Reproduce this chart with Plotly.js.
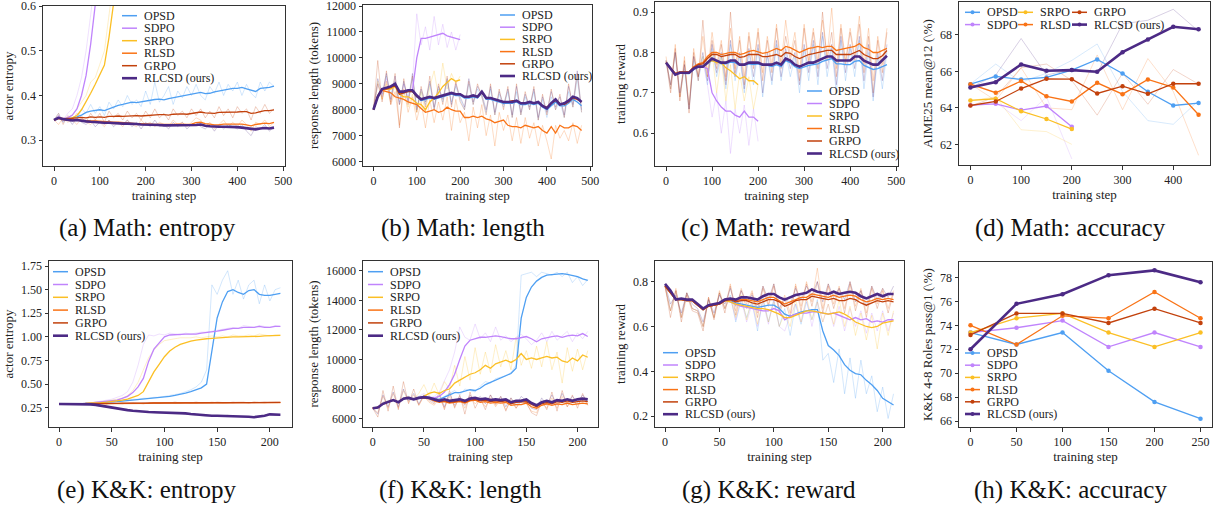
<!DOCTYPE html>
<html>
<head>
<meta charset="utf-8">
<script src="https://cdn.plot.ly/plotly-3.0.1.min.js"></script>
<style>html,body{margin:0;padding:0;background:#fff;}#chart{width:1214px;height:506px;}</style>
</head>
<body>
<div id="chart"></div>
<script>
// ---------------- data ----------------
const SERIES = ['OPSD','SDPO','SRPO','RLSD','GRPO','RLCSD (ours)'];
const COLORS = ['#4e9ff2','#c084fc','#fbbf24','#f97316','#c2410c','#4c2a85'];

const mathSteps = [0,10,20,30,40,50,60,70,80,90,100,110,120,130,140,150,160,170,180,190,200,210,220,230,240,250,260,270,280,290,300,310,320,330,340,350,360,370,380,390,400,410,420,430,440,450,460,470,480];
const kkSteps = [0,5,10,15,20,25,30,35,40,45,50,55,60,65,70,75,80,85,90,95,100,105,110,115,120,125,130,135,140,145,150,155,160,165,170,175,180,185,190,195,200,205,210];
const mathEvalSteps = [0,50,100,150,200,250,300,350,400,450];
const kkEvalSteps = [0,50,100,150,200,250];

// (a) Math entropy
const aOPSD = [0.345,0.350,0.348,0.347,0.350,0.352,0.356,0.362,0.365,0.366,0.368,0.366,0.370,0.374,0.378,0.380,0.382,0.385,0.384,0.386,0.388,0.389,0.391,0.392,0.390,0.393,0.395,0.396,0.398,0.401,0.402,0.405,0.407,0.404,0.405,0.408,0.410,0.411,0.414,0.416,0.416,0.418,0.415,0.412,0.409,0.416,0.417,0.418,0.421];
const aSDPO = [0.345,0.352,0.348,0.350,0.356,0.370,0.400,0.445,0.515,0.59,0.68,0.78];
const aSRPO = [0.345,0.350,0.347,0.347,0.350,0.355,0.368,0.385,0.405,0.425,0.445,0.468,0.53,0.60,0.68,0.76];
const aRLSD = [0.345,0.348,0.346,0.345,0.346,0.345,0.344,0.344,0.343,0.343,0.342,0.341,0.341,0.340,0.340,0.339,0.339,0.338,0.337,0.337,0.336,0.336,0.335,0.335,0.335,0.334,0.335,0.336,0.335,0.335,0.336,0.339,0.340,0.337,0.336,0.334,0.334,0.336,0.336,0.336,0.335,0.336,0.334,0.332,0.335,0.337,0.338,0.337,0.340];
const aGRPO = [0.345,0.350,0.348,0.348,0.349,0.350,0.351,0.350,0.352,0.351,0.352,0.351,0.353,0.353,0.354,0.353,0.354,0.355,0.355,0.354,0.355,0.356,0.357,0.357,0.357,0.356,0.358,0.359,0.359,0.358,0.360,0.361,0.363,0.361,0.360,0.360,0.362,0.362,0.363,0.362,0.363,0.364,0.364,0.360,0.361,0.364,0.366,0.366,0.368];
const aRLCSD = [0.345,0.350,0.347,0.346,0.344,0.345,0.343,0.342,0.341,0.340,0.339,0.339,0.339,0.338,0.338,0.337,0.337,0.337,0.336,0.335,0.335,0.335,0.334,0.334,0.333,0.333,0.333,0.333,0.333,0.333,0.333,0.334,0.335,0.332,0.331,0.330,0.330,0.330,0.330,0.330,0.329,0.328,0.327,0.325,0.324,0.326,0.327,0.326,0.328];
const aRawOPSD = [0.345,0.36,0.34,0.35,0.355,0.345,0.37,0.36,0.38,0.36,0.375,0.355,0.385,0.37,0.39,0.375,0.40,0.38,0.39,0.375,0.41,0.38,0.43,0.385,0.40,0.42,0.38,0.41,0.395,0.42,0.40,0.425,0.40,0.39,0.42,0.405,0.43,0.40,0.425,0.41,0.43,0.40,0.425,0.405,0.395,0.43,0.41,0.43,0.42];
const aRawSDPO = [0.345,0.355,0.345,0.36,0.37,0.40,0.44,0.50,0.58,0.68,0.78,0.85];
const aRawSRPO = [0.345,0.35,0.345,0.35,0.355,0.37,0.385,0.40,0.43,0.44,0.47,0.50,0.58,0.66,0.75,0.82];
const aRawRLSD = [0.345,0.335,0.35,0.34,0.345,0.335,0.35,0.34,0.335,0.345,0.34,0.33,0.345,0.335,0.34,0.33,0.345,0.335,0.33,0.345,0.335,0.34,0.33,0.34,0.335,0.33,0.345,0.335,0.34,0.33,0.34,0.35,0.345,0.33,0.34,0.325,0.335,0.345,0.33,0.34,0.33,0.345,0.335,0.32,0.34,0.335,0.345,0.33,0.34];
const aRawGRPO = [0.345,0.36,0.335,0.355,0.345,0.36,0.35,0.34,0.36,0.345,0.36,0.34,0.365,0.35,0.36,0.345,0.365,0.35,0.36,0.345,0.365,0.35,0.37,0.35,0.36,0.345,0.37,0.355,0.365,0.35,0.37,0.355,0.37,0.35,0.365,0.35,0.375,0.355,0.37,0.35,0.375,0.36,0.37,0.345,0.375,0.36,0.38,0.36,0.37];
const aRawRLCSD = [0.345,0.355,0.34,0.35,0.335,0.35,0.34,0.335,0.345,0.33,0.34,0.335,0.345,0.33,0.34,0.335,0.345,0.33,0.34,0.325,0.34,0.33,0.345,0.33,0.335,0.325,0.34,0.33,0.34,0.325,0.335,0.34,0.33,0.325,0.335,0.32,0.335,0.325,0.335,0.33,0.325,0.335,0.32,0.31,0.33,0.325,0.335,0.32,0.33];

// (b) Math length
const bOPSD = [8000,8500,8800,8850,8900,8950,8650,8650,8700,8700,8500,8350,8400,8450,8400,8450,8500,8550,8600,8550,8550,8450,8450,8500,8450,8650,8400,8400,8350,8300,8250,8250,8250,8300,8200,8200,8250,8200,8250,8100,8000,8150,8300,8150,8150,8250,8400,8300,8150];
const bSDPO = [8000,8500,8800,8850,8900,9000,8700,8700,8750,8750,10000,10750,10750,10800,10850,10900,10950,10850,10800,10750,10700];
const bSRPO = [8000,8500,8800,8800,8800,8900,8600,8500,8500,8400,8250,8200,8000,8300,8450,8650,8900,9050,9200,9100,9150];
const bRLSD = [8000,8500,8750,8700,8650,8500,8450,8400,8300,8250,8200,8050,7900,7950,8000,7900,7950,8100,8000,7950,7950,7700,7700,7750,7700,7750,7650,7600,7500,7550,7600,7400,7350,7350,7300,7400,7350,7300,7350,7200,7100,7350,7100,7400,7300,7300,7400,7350,7200];
const bGRPO = [8000,8550,8800,8800,8850,8950,8600,8650,8700,8700,8500,8400,8450,8500,8450,8500,8550,8600,8650,8600,8600,8500,8500,8550,8500,8650,8450,8450,8400,8350,8300,8300,8350,8350,8250,8250,8300,8250,8300,8150,8100,8250,8350,8250,8200,8300,8450,8400,8300];
const bRLCSD = [8000,8500,8800,8850,8900,9000,8700,8700,8750,8750,8550,8400,8450,8500,8450,8500,8550,8600,8650,8600,8600,8500,8500,8550,8500,8700,8450,8450,8400,8350,8300,8300,8300,8350,8250,8250,8300,8250,8300,8150,8050,8250,8400,8200,8250,8350,8500,8450,8300];
const bRawOPSD = [8000,9000,8500,9300,8600,9100,8300,9000,8500,9200,8100,8700,8200,9000,8000,8800,8300,9100,8300,8900,8400,8000,9000,8200,8800,8500,7900,8800,7800,8600,8100,8700,7700,8700,7800,8500,8000,8700,7600,8400,7700,8500,8000,8300,7700,8700,8100,9200,7900];
const bRawSDPO = [8000,9000,8500,9200,8300,9100,8200,9000,8400,9000,11700,10500,11200,10300,11600,10500,11300,10400,11000,10300,10900];
const bRawSRPO = [8000,9100,8400,9000,8300,9000,8200,8700,8100,8600,7900,8700,7900,8900,9500,8500,9800,8800,9400,9000,9300];
const bRawRLSD = [8000,9000,8400,9100,8200,8700,7400,8800,7900,8500,7600,8300,7300,8400,7500,8300,7600,8500,7200,8400,7500,7900,6800,8100,7300,8200,7000,7800,6600,7900,7200,7800,6800,7700,6700,7700,6900,7500,6600,7400,6800,6100,7400,6900,7200,6800,7500,6700,7400];
const bRawGRPO = [8000,9900,8300,9500,8200,9400,7300,9200,8200,9300,7900,8900,8100,9300,8000,9000,8200,9300,8100,9100,8300,8000,9100,8200,9000,8500,7800,9000,7800,8800,8000,8900,7700,9000,7800,8700,8000,8900,7600,8600,7800,8800,8000,8600,7700,9000,8100,9400,7900];
const bRawRLCSD = [8000,9200,8600,9400,8400,9300,8200,9100,8300,9400,8000,8800,8300,9100,8100,8900,8400,9200,8200,9000,8500,8100,9200,8300,8900,8600,8000,8900,7900,8700,8200,8800,7800,8900,7900,8600,8100,8800,7700,8500,7900,8700,8100,8500,7800,8900,8200,9500,8000];

// (c) Math reward
const cOPSD = [0.775,0.760,0.745,0.750,0.748,0.748,0.758,0.763,0.765,0.772,0.780,0.778,0.772,0.772,0.776,0.775,0.768,0.768,0.772,0.770,0.772,0.768,0.768,0.765,0.770,0.765,0.780,0.775,0.765,0.760,0.765,0.768,0.770,0.772,0.778,0.782,0.785,0.772,0.772,0.770,0.770,0.778,0.780,0.768,0.762,0.758,0.760,0.765,0.770];
const cSDPO = [0.775,0.760,0.745,0.750,0.750,0.750,0.760,0.765,0.765,0.760,0.700,0.680,0.665,0.655,0.655,0.645,0.640,0.655,0.640,0.640,0.630];
const cSRPO = [0.775,0.760,0.745,0.750,0.750,0.750,0.760,0.765,0.765,0.775,0.780,0.775,0.775,0.762,0.755,0.745,0.735,0.740,0.730,0.730,0.720];
const cRLSD = [0.775,0.762,0.748,0.752,0.752,0.752,0.765,0.772,0.775,0.790,0.800,0.800,0.795,0.797,0.800,0.800,0.795,0.798,0.803,0.805,0.802,0.798,0.800,0.805,0.810,0.805,0.815,0.812,0.805,0.800,0.805,0.810,0.812,0.815,0.812,0.815,0.815,0.805,0.808,0.810,0.812,0.815,0.822,0.812,0.808,0.800,0.800,0.805,0.810];
const cGRPO = [0.775,0.762,0.748,0.752,0.752,0.752,0.763,0.770,0.772,0.785,0.795,0.795,0.790,0.792,0.795,0.795,0.788,0.790,0.795,0.795,0.795,0.790,0.790,0.792,0.795,0.790,0.800,0.798,0.790,0.785,0.790,0.795,0.797,0.800,0.802,0.805,0.805,0.795,0.795,0.795,0.795,0.800,0.805,0.795,0.790,0.785,0.785,0.792,0.805];
const cRLCSD = [0.775,0.760,0.745,0.750,0.750,0.750,0.760,0.765,0.765,0.775,0.785,0.780,0.775,0.775,0.780,0.780,0.770,0.770,0.775,0.775,0.775,0.770,0.770,0.770,0.775,0.770,0.785,0.780,0.770,0.765,0.770,0.775,0.775,0.780,0.785,0.790,0.790,0.780,0.780,0.780,0.780,0.790,0.790,0.780,0.775,0.770,0.770,0.780,0.792];
const cRawOPSD = [0.78,0.71,0.80,0.69,0.76,0.66,0.78,0.73,0.79,0.72,0.81,0.74,0.79,0.71,0.82,0.73,0.79,0.70,0.80,0.72,0.81,0.69,0.79,0.72,0.82,0.73,0.80,0.74,0.79,0.70,0.81,0.73,0.82,0.72,0.84,0.74,0.81,0.70,0.83,0.73,0.81,0.74,0.83,0.71,0.80,0.68,0.79,0.71,0.80];
const cRawSDPO = [0.78,0.72,0.80,0.69,0.77,0.67,0.79,0.74,0.78,0.72,0.64,0.70,0.60,0.68,0.55,0.66,0.60,0.67,0.57,0.66,0.58];
const cRawSRPO = [0.78,0.72,0.80,0.69,0.77,0.67,0.79,0.74,0.79,0.74,0.80,0.70,0.79,0.68,0.77,0.66,0.75,0.68,0.74,0.66,0.72];
const cRawRLSD = [0.79,0.71,0.82,0.69,0.79,0.66,0.81,0.74,0.84,0.75,0.85,0.77,0.83,0.74,0.86,0.76,0.84,0.74,0.85,0.77,0.86,0.75,0.84,0.77,0.87,0.77,0.88,0.79,0.85,0.75,0.87,0.78,0.86,0.78,0.88,0.79,0.91,0.76,0.87,0.78,0.86,0.79,0.89,0.77,0.86,0.73,0.84,0.77,0.86];
const cRawGRPO = [0.78,0.70,0.81,0.68,0.78,0.65,0.80,0.73,0.88,0.74,0.83,0.76,0.82,0.73,0.90,0.75,0.83,0.72,0.84,0.76,0.85,0.73,0.83,0.75,0.86,0.76,0.84,0.78,0.83,0.73,0.86,0.77,0.85,0.76,0.90,0.78,0.85,0.74,0.86,0.77,0.85,0.78,0.87,0.75,0.84,0.70,0.83,0.75,0.85];
const cRawRLCSD = [0.78,0.72,0.80,0.70,0.77,0.66,0.79,0.74,0.80,0.73,0.82,0.75,0.80,0.72,0.83,0.74,0.80,0.71,0.81,0.74,0.82,0.70,0.80,0.73,0.83,0.74,0.81,0.76,0.80,0.72,0.82,0.75,0.83,0.74,0.85,0.76,0.82,0.72,0.84,0.75,0.82,0.76,0.84,0.73,0.82,0.69,0.80,0.73,0.82];

// (d) Math accuracy
const dOPSD = [65.30,65.72,65.56,65.67,66.07,66.65,65.88,64.88,64.13,64.26];
const dSDPO = [64.15,64.22,63.88,64.10,62.97];
const dSRPO = [64.41,64.50,63.82,63.39,62.84];
const dRLSD = [65.30,64.83,65.47,64.63,64.35,65.37,64.75,65.56,65.12,63.62];
const dGRPO = [64.13,64.35,65.06,65.59,65.57,64.79,65.19,64.77,65.32,65.32];
const dRLCSD = [65.12,65.41,66.38,66.03,66.07,65.98,67.05,67.75,68.44,68.31];
const dRawOPSD = [65.3,66.4,65.4,65.9,66.6,67.5,64.9,63.3,63.1,64.4];
const dRawSDPO = [64.1,64.3,63.3,64.6,61.2];
const dRawSRPO = [64.4,64.6,62.8,62.7,62.0];
const dRawRLSD = [65.3,64.4,66.2,64.0,63.9,66.9,63.9,66.7,64.9,61.4];
const dRawGRPO = [64.1,64.6,66.2,66.4,65.5,63.6,65.9,64.2,66.1,65.3];
const dRawRLCSD = [65.1,65.8,67.8,65.8,66.1,65.9,68.6,68.8,69.4,68.2];

// (e) K&K entropy
const eOPSD = [0.29,0.29,0.29,0.29,0.29,0.295,0.30,0.30,0.305,0.31,0.31,0.315,0.32,0.325,0.33,0.335,0.34,0.345,0.35,0.355,0.36,0.37,0.38,0.39,0.405,0.42,0.44,0.46,0.50,0.85,1.20,1.37,1.48,1.50,1.47,1.45,1.49,1.50,1.45,1.44,1.44,1.45,1.46];
const eSDPO = [0.29,0.29,0.29,0.29,0.29,0.295,0.30,0.305,0.31,0.315,0.32,0.33,0.35,0.37,0.41,0.47,0.56,0.74,0.87,0.94,1.00,1.02,1.025,1.03,1.03,1.03,1.03,1.04,1.045,1.05,1.06,1.07,1.08,1.09,1.09,1.10,1.10,1.10,1.11,1.10,1.10,1.11,1.11];
const eSRPO = [0.29,0.29,0.29,0.29,0.29,0.295,0.30,0.30,0.305,0.31,0.315,0.32,0.33,0.34,0.36,0.38,0.42,0.53,0.63,0.71,0.79,0.85,0.89,0.92,0.94,0.955,0.965,0.975,0.98,0.985,0.99,0.995,1.0,1.0,1.0,1.0,1.0,1.005,1.005,1.01,1.01,1.015,1.015];
const eRLSD = [0.29,0.29,0.29,0.29,0.29,0.29,0.29,0.29,0.29,0.29,0.295,0.295,0.295,0.295,0.295,0.295,0.295,0.295,0.30,0.30,0.30,0.30,0.30,0.30,0.30,0.30,0.30,0.30,0.30,0.30,0.30,0.30,0.30,0.30,0.30,0.305,0.305,0.305,0.305,0.305,0.305,0.305,0.305];
const eGRPO = [0.29,0.29,0.29,0.29,0.29,0.29,0.29,0.292,0.294,0.295,0.296,0.297,0.298,0.298,0.299,0.30,0.30,0.30,0.30,0.301,0.301,0.301,0.302,0.302,0.302,0.302,0.302,0.303,0.303,0.303,0.303,0.304,0.304,0.304,0.304,0.305,0.305,0.305,0.306,0.306,0.306,0.306,0.306];
const eRLCSD = [0.29,0.29,0.29,0.29,0.29,0.29,0.285,0.28,0.27,0.262,0.255,0.245,0.235,0.225,0.218,0.212,0.208,0.205,0.202,0.20,0.198,0.196,0.195,0.198,0.19,0.183,0.177,0.172,0.168,0.165,0.165,0.164,0.165,0.165,0.163,0.16,0.155,0.15,0.155,0.165,0.18,0.18,0.175];
const eRawOPSD = [0.29,0.29,0.29,0.29,0.29,0.30,0.30,0.30,0.31,0.31,0.32,0.32,0.33,0.33,0.34,0.34,0.35,0.35,0.36,0.36,0.37,0.38,0.39,0.40,0.42,0.44,0.47,0.52,0.65,1.55,1.45,1.60,1.70,1.45,1.60,1.40,1.55,1.60,1.35,1.55,1.38,1.50,1.52];
const eRawSDPO = [0.29,0.29,0.29,0.29,0.29,0.30,0.30,0.31,0.32,0.33,0.34,0.36,0.38,0.42,0.52,0.70,0.92,1.02,1.01,1.03,1.02,1.04,1.03,1.02,1.04,1.03,1.04,1.05,1.05,1.06,1.07,1.08,1.09,1.10,1.09,1.12,1.11,1.10,1.12,1.11,1.10,1.12,1.11];
const eRawSRPO = [0.29,0.29,0.29,0.29,0.29,0.30,0.30,0.31,0.31,0.32,0.33,0.34,0.35,0.38,0.43,0.52,0.65,0.78,0.86,0.92,0.96,0.97,0.98,0.99,0.99,0.99,1.00,0.99,1.00,1.01,1.00,1.01,1.00,1.02,1.01,1.01,1.02,1.01,1.03,1.02,1.01,1.02,1.02];
const eRawRLSD = [0.29,0.295,0.29,0.285,0.295,0.29,0.295,0.29,0.30,0.29,0.30,0.295,0.29,0.30,0.295,0.30,0.29,0.30,0.305,0.295,0.30,0.305,0.295,0.30,0.305,0.30,0.295,0.305,0.30,0.31,0.30,0.295,0.305,0.30,0.31,0.305,0.30,0.31,0.305,0.30,0.31,0.305,0.31];
const eRawGRPO = [0.29,0.29,0.295,0.29,0.285,0.295,0.29,0.30,0.295,0.29,0.30,0.295,0.30,0.295,0.305,0.295,0.30,0.305,0.30,0.295,0.305,0.30,0.31,0.30,0.305,0.30,0.31,0.30,0.305,0.30,0.31,0.305,0.30,0.31,0.305,0.31,0.30,0.31,0.305,0.31,0.305,0.31,0.305];
const eRawRLCSD = [0.29,0.29,0.295,0.29,0.285,0.29,0.28,0.275,0.265,0.255,0.25,0.24,0.23,0.22,0.215,0.21,0.205,0.20,0.20,0.195,0.195,0.19,0.20,0.19,0.185,0.175,0.17,0.165,0.16,0.165,0.16,0.165,0.17,0.16,0.155,0.155,0.15,0.145,0.16,0.17,0.19,0.175,0.17];

// (f) K&K length
const fOPSD = [6700,6750,7000,7150,7250,7100,7350,7400,7300,7400,7450,7450,7350,7300,7450,7600,7750,7750,7850,7950,7900,8050,8300,8450,8600,8700,8850,9050,9400,12800,14200,14900,15300,15550,15700,15750,15780,15800,15750,15700,15600,15450,15350];
const fSDPO = [6700,6750,7000,7150,7250,7100,7350,7400,7300,7400,7500,7450,7400,7500,7800,8300,9000,10000,10900,11300,11400,11500,11500,11550,11600,11550,11450,11400,11400,11500,11550,11400,11200,11400,11500,11550,11600,11500,11600,11650,11600,11750,11550];
const fSRPO = [6700,6750,7000,7150,7250,7100,7350,7400,7300,7400,7500,7700,7800,7700,7900,8000,8400,8600,8800,9000,9100,9300,9600,9400,9700,9800,9950,9800,10000,10400,10000,10100,10000,10100,10200,10100,10150,9900,9800,10100,9900,10300,10150];
const fRLSD = [6700,6750,7000,7150,7250,7100,7350,7400,7300,7400,7400,7350,7200,7100,7150,7050,7100,7150,7050,7200,7250,7100,7150,7050,7100,7050,7100,6900,6950,6950,7050,6800,6700,6900,7000,6900,7000,6950,7050,6950,7000,7050,7000];
const fGRPO = [6700,6750,7000,7150,7250,7100,7350,7400,7300,7400,7420,7380,7250,7150,7200,7100,7150,7200,7100,7250,7300,7200,7250,7150,7200,7150,7200,7000,7100,7100,7150,6950,6800,7000,7100,7000,7150,7100,7200,7100,7150,7200,7150];
const fRLCSD = [6700,6750,7000,7150,7250,7100,7350,7400,7300,7400,7450,7400,7300,7200,7300,7200,7250,7300,7200,7350,7400,7300,7350,7250,7300,7250,7300,7100,7200,7200,7300,7050,6900,7100,7200,7100,7250,7200,7300,7200,7300,7350,7300];
const fRawOPSD = [6700,6800,7100,7200,7300,7100,7400,7500,7300,7500,7500,7400,7300,7200,7500,7700,7900,7600,8000,7900,7800,8200,8500,8400,8700,8800,8900,9100,9600,15700,15800,15900,15600,15900,15800,15700,15900,15600,15900,15200,15600,15000,15400];
const fRawSDPO = [6700,6800,7100,7200,7300,7100,7400,7500,7300,7500,7700,7400,7500,7800,8500,9300,10500,12200,11500,11300,12400,11400,11800,11200,12200,11300,11600,11200,11500,11700,11400,11000,11300,11800,11200,11900,11300,11600,11900,11200,11800,11400,11900];
const fRawSRPO = [6700,6800,7100,7200,7300,7100,7400,7500,7300,7700,8300,7500,8400,7600,8500,8000,9600,8200,10200,8600,10800,9000,10500,9100,11000,9500,10600,9300,11500,9600,10600,9400,10900,9500,11200,9300,10500,8400,10800,9200,10700,9300,10600];
const fRawRLSD = [6700,6400,7500,6700,7700,6700,7900,7100,7600,6900,7500,7100,6900,7400,6700,7500,6800,7400,6700,7500,7000,7300,6800,7400,6800,7300,6600,7200,6700,7200,7000,6500,6400,7200,6700,7400,6700,7500,6800,7300,6900,7400,6900];
const fRawGRPO = [6700,6100,7900,6500,8200,6600,8500,7000,8000,6900,7600,7200,7000,7800,6600,7900,6700,7600,6300,7800,6700,7400,6600,7600,6900,7500,6500,7400,6700,7300,7100,6400,6200,7200,6600,7800,6500,7900,6800,7600,6700,7700,6900];
const fRawRLCSD = [6700,6300,7600,6800,7800,6800,8000,7200,7700,7000,7600,7300,7100,7600,6800,7700,6900,7500,6900,7600,7200,7500,7000,7600,7000,7500,6800,7400,6900,7500,7200,6700,6600,7400,6900,7600,6900,7700,7000,7500,7100,7600,7100];

// (g) K&K reward
const gOPSD = [0.78,0.75,0.72,0.72,0.715,0.715,0.695,0.675,0.69,0.695,0.70,0.715,0.715,0.705,0.70,0.695,0.69,0.685,0.69,0.695,0.695,0.68,0.655,0.645,0.655,0.665,0.67,0.675,0.675,0.58,0.515,0.495,0.47,0.43,0.405,0.39,0.385,0.36,0.34,0.315,0.28,0.265,0.25];
const gSDPO = [0.78,0.75,0.72,0.72,0.715,0.715,0.695,0.675,0.69,0.695,0.70,0.715,0.71,0.70,0.69,0.685,0.68,0.675,0.67,0.67,0.68,0.67,0.63,0.645,0.655,0.66,0.66,0.665,0.665,0.66,0.655,0.66,0.65,0.64,0.63,0.64,0.63,0.635,0.62,0.625,0.62,0.63,0.63];
const gSRPO = [0.78,0.75,0.72,0.72,0.715,0.715,0.695,0.675,0.69,0.695,0.70,0.715,0.71,0.70,0.695,0.69,0.685,0.68,0.68,0.675,0.665,0.655,0.64,0.64,0.65,0.66,0.67,0.67,0.665,0.66,0.655,0.66,0.665,0.655,0.64,0.62,0.61,0.60,0.595,0.60,0.615,0.62,0.625];
const gRLSD = [0.78,0.75,0.72,0.72,0.715,0.715,0.695,0.675,0.69,0.695,0.70,0.715,0.72,0.715,0.72,0.72,0.715,0.71,0.72,0.73,0.73,0.715,0.70,0.71,0.72,0.73,0.73,0.745,0.74,0.735,0.73,0.74,0.73,0.735,0.74,0.735,0.72,0.71,0.715,0.725,0.72,0.725,0.72];
const gGRPO = [0.78,0.75,0.72,0.72,0.715,0.715,0.695,0.675,0.69,0.695,0.70,0.715,0.72,0.71,0.715,0.715,0.705,0.70,0.71,0.72,0.72,0.71,0.69,0.70,0.715,0.72,0.72,0.735,0.73,0.725,0.72,0.725,0.715,0.715,0.725,0.72,0.705,0.695,0.705,0.715,0.71,0.715,0.71];
const gRLCSD = [0.79,0.76,0.72,0.725,0.72,0.72,0.70,0.68,0.695,0.70,0.705,0.72,0.725,0.72,0.73,0.73,0.725,0.72,0.735,0.745,0.745,0.73,0.72,0.73,0.74,0.745,0.75,0.765,0.755,0.75,0.745,0.755,0.745,0.75,0.755,0.75,0.735,0.725,0.735,0.745,0.735,0.745,0.745];
const gRawOPSD = [0.78,0.67,0.76,0.64,0.75,0.68,0.67,0.60,0.72,0.64,0.75,0.68,0.74,0.62,0.72,0.64,0.71,0.58,0.73,0.62,0.72,0.60,0.68,0.56,0.70,0.61,0.71,0.63,0.72,0.45,0.48,0.35,0.50,0.30,0.46,0.28,0.45,0.30,0.38,0.22,0.33,0.19,0.30];
const gRawSDPO = [0.78,0.67,0.76,0.64,0.75,0.68,0.67,0.60,0.72,0.64,0.75,0.68,0.73,0.63,0.72,0.62,0.70,0.60,0.71,0.61,0.72,0.60,0.58,0.65,0.70,0.62,0.72,0.60,0.71,0.62,0.70,0.60,0.69,0.58,0.68,0.60,0.67,0.57,0.66,0.58,0.67,0.58,0.66];
const gRawSRPO = [0.78,0.67,0.76,0.64,0.75,0.68,0.67,0.60,0.72,0.64,0.75,0.68,0.73,0.64,0.74,0.63,0.73,0.61,0.72,0.62,0.71,0.60,0.66,0.60,0.72,0.62,0.73,0.63,0.71,0.62,0.70,0.61,0.72,0.60,0.69,0.56,0.66,0.54,0.65,0.50,0.66,0.56,0.67];
const gRawRLSD = [0.78,0.67,0.77,0.64,0.75,0.68,0.67,0.60,0.73,0.64,0.76,0.68,0.79,0.67,0.77,0.70,0.76,0.66,0.78,0.70,0.79,0.67,0.74,0.66,0.79,0.69,0.80,0.71,0.86,0.68,0.79,0.70,0.78,0.68,0.80,0.69,0.77,0.66,0.78,0.70,0.77,0.68,0.76];
const gRawGRPO = [0.78,0.64,0.76,0.62,0.74,0.67,0.66,0.58,0.73,0.63,0.75,0.66,0.78,0.65,0.76,0.68,0.75,0.64,0.77,0.69,0.78,0.66,0.72,0.64,0.78,0.67,0.79,0.69,0.80,0.66,0.78,0.68,0.77,0.66,0.79,0.67,0.76,0.64,0.77,0.68,0.76,0.66,0.75];
const gRawRLCSD = [0.79,0.70,0.74,0.66,0.75,0.70,0.68,0.62,0.72,0.66,0.74,0.70,0.77,0.69,0.76,0.71,0.74,0.68,0.78,0.72,0.79,0.68,0.73,0.70,0.77,0.72,0.78,0.74,0.80,0.71,0.79,0.73,0.77,0.72,0.80,0.71,0.76,0.69,0.78,0.72,0.77,0.73,0.78];

// (h) K&K accuracy
const hOPSD = [73.4,72.4,73.4,70.2,67.6,66.2];
const hSDPO = [73.4,73.8,74.4,72.2,73.4,72.2];
const hSRPO = [73.4,74.6,75.0,73.4,72.2,73.4];
const hRLSD = [74.0,72.4,74.8,74.6,76.8,74.6];
const hGRPO = [73.2,75.0,75.0,74.2,75.4,74.2];
const hRLCSD = [72.0,75.8,76.6,78.2,78.6,77.6];

// axis text
const CAPTIONS = ['(a) Math: entropy','(b) Math: length','(c) Math: reward','(d) Math: accuracy','(e) K&K: entropy','(f) K&K: length','(g) K&K: reward','(h) K&K: accuracy'];
const YTITLES = ['actor entropy','response length (tokens)','training reward','AIME25 mean@12 (\\%)','actor entropy','response length (tokens)','training reward','K&K 4-8 Roles pass@1 (\\%)'];
const XTITLE = 'training step';

// ---------------- layout helpers ----------------
const W = 1214, H = 506;
const FONT = '"Liberation Serif","Times New Roman","DejaVu Serif",serif';
const px = v => v / W;
const py = v => 1 - v / H;

const panels = [
  {box:[43,285,6,166], xr:[-24,504], yr:[0.242,0.6005], xt:[0,100,200,300,400,500], yt:[0.3,0.4,0.5,0.6], yf:'.1f', x:mathSteps, ev:false,
   s:[aOPSD,aSDPO,aSRPO,aRLSD,aGRPO,aRLCSD], r:[aRawOPSD,aRawSDPO,aRawSRPO,aRawRLSD,aRawGRPO,aRawRLCSD],
   leg:{cols:[{x:122,items:[0,1,2,3,4,5]}], y:15.7, dy:12.5}, cap:[147,228]},
  {box:[363,592,5,166], xr:[-24,504], yr:[5830,12040], xt:[0,100,200,300,400,500], yt:[6000,7000,8000,9000,10000,11000,12000], yf:'d', x:mathSteps, ev:false,
   s:[bOPSD,bSDPO,bSRPO,bRLSD,bGRPO,bRLCSD], r:[bRawOPSD,bRawSDPO,bRawSRPO,bRawRLSD,bRawGRPO,bRawRLCSD],
   leg:{cols:[{x:500,items:[0,1,2,3,4,5]}], y:15, dy:12.2}, cap:[463,228]},
  {box:[655,898,2,166], xr:[-24,504], yr:[0.519,0.925], xt:[0,100,200,300,400,500], yt:[0.6,0.7,0.8,0.9], yf:'.1f', x:mathSteps, ev:false,
   s:[cOPSD,cSDPO,cSRPO,cRLSD,cGRPO,cRLCSD], r:[cRawOPSD,cRawSDPO,cRawSRPO,cRawRLSD,cRawGRPO,cRawRLCSD],
   leg:{cols:[{x:807,items:[0,1,2,3,4,5]}], y:91, dy:12.5}, cap:[766,228]},
  {box:[959,1210,2,165], xr:[-22.5,472.5], yr:[60.87,69.8], xt:[0,100,200,300,400], yt:[62,64,66,68], yf:'d', x:mathEvalSteps, ev:true,
   s:[dOPSD,dSDPO,dSRPO,dRLSD,dGRPO,dRLCSD], r:[dRawOPSD,dRawSDPO,dRawSRPO,dRawRLSD,dRawGRPO,dRawRLCSD],
   leg:{cols:[{x:965,items:[0,1]},{x:1018,items:[2,3]},{x:1072,items:[4,5]}], y:12.3, dy:12.3}, cap:[1070,228]},
  {box:[49,292,261,427], xr:[-9.5,221], yr:[0.046,1.803], xt:[0,50,100,150,200], yt:[0.25,0.5,0.75,1.0,1.25,1.5,1.75], yf:'.2f', x:kkSteps, ev:false,
   s:[eOPSD,eSDPO,eSRPO,eRLSD,eGRPO,eRLCSD], r:[eRawOPSD,eRawSDPO,eRawSRPO,eRawRLSD,eRawGRPO,eRawRLCSD],
   leg:{cols:[{x:53,items:[0,1,2,3,4,5]}], y:271.7, dy:12.8}, cap:[147,490]},
  {box:[363,598,261,427], xr:[-9.5,220], yr:[5430,16660], xt:[0,50,100,150,200], yt:[6000,8000,10000,12000,14000,16000], yf:'d', x:kkSteps, ev:false,
   s:[fOPSD,fSDPO,fSRPO,fRLSD,fGRPO,fRLCSD], r:[fRawOPSD,fRawSDPO,fRawSRPO,fRawRLSD,fRawGRPO,fRawRLCSD],
   leg:{cols:[{x:368,items:[0,1,2,3,4,5]}], y:271.7, dy:12.8}, cap:[460,490]},
  {box:[655,904,261,427], xr:[-9.2,219.6], yr:[0.152,0.892], xt:[0,50,100,150,200], yt:[0.2,0.4,0.6,0.8], yf:'.1f', x:kkSteps, ev:false,
   s:[gOPSD,gSDPO,gSRPO,gRLSD,gGRPO,gRLCSD], r:[gRawOPSD,gRawSDPO,gRawSRPO,gRawRLSD,gRawGRPO,gRawRLCSD],
   leg:{cols:[{x:663,items:[0,1,2,3,4,5]}], y:352.7, dy:12.3}, cap:[769,490]},
  {box:[959,1212,262,427], xr:[-12.5,262.5], yr:[65.5,79.3], xt:[0,50,100,150,200,250], yt:[66,68,70,72,74,76,78], yf:'d', x:kkEvalSteps, ev:true,
   s:[hOPSD,hSDPO,hSRPO,hRLSD,hGRPO,hRLCSD], r:null,
   leg:{cols:[{x:965,items:[0,1,2,3,4,5]}], y:353, dy:12.2}, cap:[1070,490]}
];

const traces = [];
const shapes = [];
const annotations = [];
const layout = {
  width: W, height: H,
  margin: {l:0, r:0, t:0, b:0},
  paper_bgcolor: '#ffffff', plot_bgcolor: '#ffffff',
  showlegend: false,
  font: {family: FONT, size: 12, color: '#222'}
};

function rgba(hex, a) {
  const n = parseInt(hex.slice(1), 16);
  return 'rgba(' + ((n >> 16) & 255) + ',' + ((n >> 8) & 255) + ',' + (n & 255) + ',' + a + ')';
}

panels.forEach((p, i) => {
  const k = i + 1;
  const xa = 'x' + (k === 1 ? '' : k), ya = 'y' + (k === 1 ? '' : k);
  const xkey = 'xaxis' + (k === 1 ? '' : k), ykey = 'yaxis' + (k === 1 ? '' : k);
  const [l, r, t, b] = p.box;
  const common = {
    showline: true, mirror: true, linecolor: '#333', linewidth: 1,
    ticks: 'outside', ticklen: 3.5, tickwidth: 1, tickcolor: '#333',
    showgrid: false, zeroline: false, fixedrange: true,
    ticklabeloverflow: 'allow',
    tickfont: {family: FONT, size: 12, color: '#222'}
  };
  layout[xkey] = Object.assign({}, common, {
    domain: [px(l), px(r)], range: p.xr, anchor: ya, tickmode: 'array', tickvals: p.xt,
    title: {text: XTITLE, font: {family: FONT, size: 13, color: '#222'}, standoff: 1}
  });
  layout[ykey] = Object.assign({}, common, {
    domain: [py(b), py(t)], range: p.yr, anchor: xa, tickmode: 'array', tickvals: p.yt, tickformat: p.yf,
    title: {text: YTITLES[i], font: {family: FONT, size: 13, color: '#222'}, standoff: 4}
  });

  // faint raw lines
  if (p.r) {
    p.r.forEach((arr, j) => {
      traces.push({
        type: 'scatter', mode: 'lines', xaxis: xa, yaxis: ya,
        x: p.x.slice(0, arr.length), y: arr, hoverinfo: 'skip',
        line: {color: rgba(COLORS[j], p.ev ? 0.22 : 0.25), width: 1}
      });
    });
  }
  // smoothed lines
  p.s.forEach((arr, j) => {
    const thick = j === 5;
    traces.push({
      type: 'scatter', mode: p.ev ? 'lines+markers' : 'lines', xaxis: xa, yaxis: ya,
      name: SERIES[j], x: p.x.slice(0, arr.length), y: arr,
      line: {color: COLORS[j], width: thick ? 2.6 : 1.3},
      marker: {color: COLORS[j], size: 4.5}
    });
  });

  // legend (drawn as shapes + text)
  p.leg.cols.forEach(col => {
    col.items.forEach((j, row) => {
      const yy = p.leg.y + row * p.leg.dy;
      shapes.push({type: 'line', xref: 'paper', yref: 'paper',
        x0: px(col.x), x1: px(col.x + 15), y0: py(yy), y1: py(yy),
        line: {color: COLORS[j], width: j === 5 ? 2.6 : 1.5}});
      if (p.ev) {
        shapes.push({type: 'circle', xref: 'paper', yref: 'paper',
          x0: px(col.x + 5.5), x1: px(col.x + 9.5), y0: py(yy + 2), y1: py(yy - 2),
          fillcolor: COLORS[j], line: {width: 0}});
      }
      annotations.push({xref: 'paper', yref: 'paper', x: px(col.x + 20), y: py(yy),
        xanchor: 'left', yanchor: 'middle', showarrow: false, text: SERIES[j],
        font: {family: FONT, size: 12, color: '#222'}});
    });
  });

  // caption
  annotations.push({xref: 'paper', yref: 'paper', x: px(p.cap[0]), y: py(p.cap[1]),
    xanchor: 'center', yanchor: 'middle', showarrow: false, text: CAPTIONS[i],
    font: {family: FONT, size: 25, color: '#111'}});
});

layout.shapes = shapes;
layout.annotations = annotations;

Plotly.newPlot('chart', traces, layout, {displayModeBar: false, staticPlot: true});
</script>
</body>
</html>
